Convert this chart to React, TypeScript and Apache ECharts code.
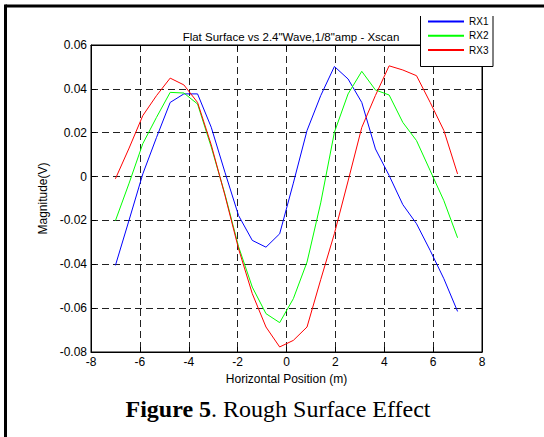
import React, { useEffect, useRef } from "react";
import * as echarts from "echarts";

const xPositions = [-7, -6.44, -5.88, -5.32, -4.76, -4.2, -3.64, -3.08, -2.52, -1.96, -1.4, -0.84, -0.28, 0.28, 0.84, 1.4, 1.96, 2.52, 3.08, 3.64, 4.2, 4.76, 5.32, 5.88, 6.44, 7];
const rx1 = [-0.0405, -0.0198, 0.0012, 0.0178, 0.0338, 0.0377, 0.0377, 0.0225, 0.002, -0.0178, -0.0291, -0.0322, -0.0261, -0.003, 0.021, 0.0369, 0.0502, 0.0445, 0.0338, 0.0126, 0.0005, -0.0128, -0.0215, -0.0337, -0.0466, -0.0615];
const rx2 = [-0.0201, -0.003, 0.015, 0.027, 0.0384, 0.0381, 0.0331, 0.0135, -0.008, -0.032, -0.0504, -0.0625, -0.0666, -0.0557, -0.039, -0.012, 0.0202, 0.0377, 0.048, 0.0395, 0.0372, 0.0247, 0.0164, 0.0027, -0.011, -0.0279];
const rx3 = [-0.001, 0.013, 0.0278, 0.0369, 0.0449, 0.0418, 0.0338, 0.0145, -0.0085, -0.033, -0.0534, -0.0686, -0.0777, -0.0747, -0.0686, -0.047, -0.026, -0.002, 0.0224, 0.037, 0.0505, 0.0486, 0.046, 0.0338, 0.021, 0.0012];
const seriesNames = ["RX1", "RX2", "RX3"];
const seriesColors = ["#0000ff", "#00ff00", "#ff0000"];

const FONT = "'Liberation Sans', Arial, Helvetica, sans-serif";

export default function App() {
  const ref = useRef<HTMLDivElement>(null);
  useEffect(() => {
    document.body.style.margin = "0";
    const chart = echarts.init(ref.current!, null, { renderer: "svg" });
    const allData = [rx1, rx2, rx3];
    const series = allData.map((arr, k) => ({
      name: seriesNames[k],
      type: "line",
      data: xPositions.map((x, i) => [x, arr[i]]),
      symbol: "none",
      showSymbol: false,
      lineStyle: { color: seriesColors[k], width: 1 },
      itemStyle: { color: seriesColors[k] },
      z: 3,
    }));
    const gridLine = { show: true, lineStyle: { color: "#222", width: 1, type: [7, 4] } };
    const xBase = { type: "value", min: -8, max: 8, interval: 2 };
    const yBase = { type: "value", min: -0.08, max: 0.06, interval: 0.02 };
    const axLine = { show: true, onZero: false, lineStyle: { color: "#000", width: 1 } };
    const axTick = { show: true, inside: true, length: 5, lineStyle: { color: "#000" } };
    chart.setOption({
      animation: false,
      backgroundColor: "#fff",
      title: {
        text: 'Flat Surface vs 2.4"Wave,1/8"amp - Xscan',
        left: 286,
        top: 26,
        textAlign: "center",
        textStyle: { fontFamily: FONT, fontSize: 11.5, fontWeight: "normal", color: "#000" },
      },
      legend: {
        orient: "vertical",
        left: 427,
        top: 16,
        padding: 0,
        itemWidth: 36,
        itemHeight: 14,
        itemGap: 3,
        z: 20,
        itemStyle: { opacity: 0 },
        textStyle: { fontFamily: FONT, fontSize: 10, color: "#000" },
        data: seriesNames,
      },
      grid: { left: 91, right: 62, top: 45, bottom: 85, show: true, borderColor: "#000", borderWidth: 1, backgroundColor: "#fff" },
      xAxis: [
        {
          ...xBase,
          position: "bottom",
          name: "Horizontal Position (m)",
          nameLocation: "middle",
          nameGap: 20,
          nameTextStyle: { fontFamily: FONT, fontSize: 12, color: "#000" },
          axisLine: axLine,
          axisTick: axTick,
          axisLabel: { fontFamily: FONT, fontSize: 12, color: "#000", margin: 4 },
          splitLine: gridLine,
        },
        {
          ...xBase,
          position: "top",
          axisLine: axLine,
          axisTick: axTick,
          axisLabel: { show: false },
          splitLine: { show: false },
        },
      ],
      yAxis: [
        {
          ...yBase,
          position: "left",
          name: "Magnitude(V)",
          nameLocation: "middle",
          nameGap: 36,
          nameTextStyle: { fontFamily: FONT, fontSize: 12, color: "#000" },
          axisLine: axLine,
          axisTick: axTick,
          axisLabel: {
            fontFamily: FONT,
            fontSize: 12,
            color: "#000",
            margin: 4,
            formatter: (v: number) => (Math.abs(v) < 1e-9 ? "0" : v.toFixed(2)),
          },
          splitLine: gridLine,
        },
        {
          ...yBase,
          position: "right",
          axisLine: axLine,
          axisTick: axTick,
          axisLabel: { show: false },
          splitLine: { show: false },
        },
      ],
      series,
      graphic: [
        { type: "line", shape: { x1: 5.5, y1: 6, x2: 544, y2: 6 }, style: { stroke: "#000", lineWidth: 3 }, z: 10 },
        { type: "line", shape: { x1: 5.5, y1: 4.5, x2: 5.5, y2: 437 }, style: { stroke: "#000", lineWidth: 3 }, z: 10 },
        { type: "rect", shape: { x: 420, y: 16, width: 73, height: 50.5 }, style: { fill: "#fff" }, z: 10 },
        {
          type: "polyline",
          shape: { points: [[420.5, 16], [420.5, 66.5], [493, 66.5], [493, 16]] },
          style: { stroke: "#000", lineWidth: 1, fill: null },
          z: 11,
        },
        {
          type: "text",
          x: 278,
          y: 408.5,
          style: {
            text: "{b|Figure 5}. Rough Surface Effect",
            fontFamily: "'Liberation Serif', 'Times New Roman', serif",
            fontSize: 24,
            fill: "#000",
            align: "center",
            verticalAlign: "middle",
            rich: { b: { fontWeight: "bold", fontFamily: "'Liberation Serif', 'Times New Roman', serif", fontSize: 24 } },
          },
          z: 10,
        },
      ],
    });
    return () => chart.dispose();
  }, []);
  return <div ref={ref} style={{ width: 544, height: 437 }} />;
}
